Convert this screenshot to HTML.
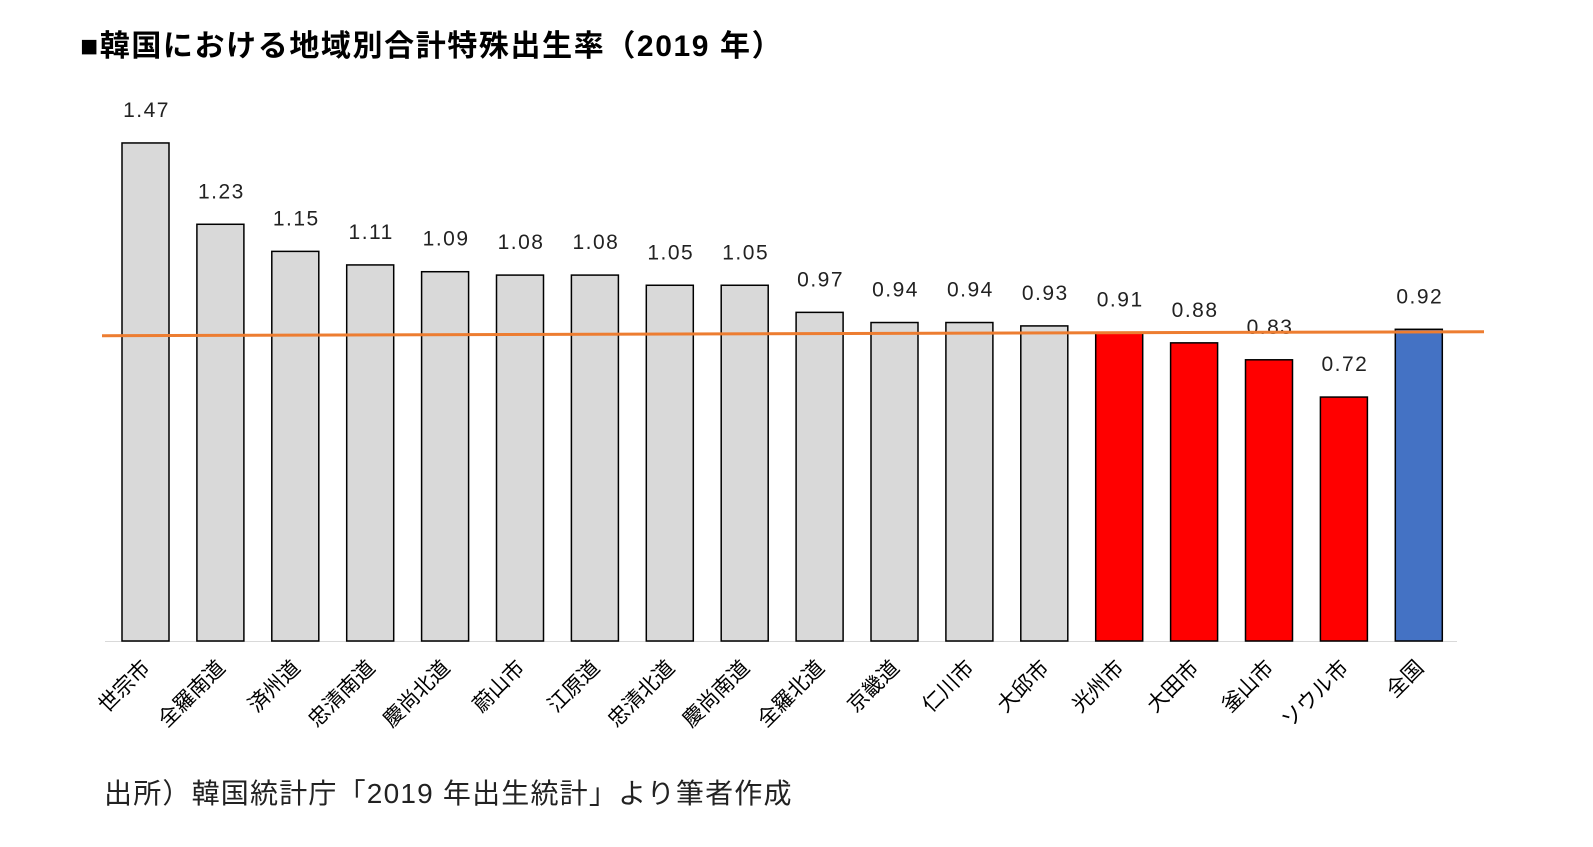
<!DOCTYPE html>
<html lang="ja">
<head>
<meta charset="utf-8">
<style>
html,body{margin:0;padding:0;background:#fff;}
body{width:1593px;height:847px;overflow:hidden;position:relative;font-family:"Liberation Sans","Noto Sans CJK JP",sans-serif;}
#title{position:absolute;left:80px;top:21px;font-size:30px;letter-spacing:1.6px;font-weight:bold;color:#000;white-space:nowrap;}
#source{position:absolute;left:104px;top:772px;font-size:28px;letter-spacing:1.2px;color:#222;white-space:nowrap;}
svg{position:absolute;left:0;top:0;}
</style>
</head>
<body>
<div id="title">■韓国における地域別合計特殊出生率（2019 年）</div>
<svg id="chart" width="1593" height="847"></svg>
<div id="source">出所）韓国統計庁「2019 年出生統計」より筆者作成</div>
<script>
const categories = ["世宗市","全羅南道","済州道","忠清南道","慶尚北道","蔚山市","江原道","忠清北道","慶尚南道","全羅北道","京畿道","仁川市","大邱市","光州市","大田市","釜山市","ソウル市","全国"];
const values = [1.47,1.23,1.15,1.11,1.09,1.08,1.08,1.05,1.05,0.97,0.94,0.94,0.93,0.91,0.88,0.83,0.72,0.92];
const valueLabels = ["1.47","1.23","1.15","1.11","1.09","1.08","1.08","1.05","1.05","0.97","0.94","0.94","0.93","0.91","0.88","0.83","0.72","0.92"];
const groups = ["other","other","other","other","other","other","other","other","other","other","other","other","other","low","low","low","low","national"];
const referenceValue = 0.91;

const NS = "http://www.w3.org/2000/svg";
const svg = document.getElementById("chart");
const baseY = 641, pxPerUnit = 338.8;
const firstX = 122, pitch = 74.9, barW = 47;
const yScale = v => baseY - v * pxPerUnit;
const xScale = i => firstX + i * pitch;
const fills = {other:"#d9d9d9", low:"#ff0000", national:"#4472c4"};

function mk(tag, attrs){const e=document.createElementNS(NS,tag);for(const k in attrs)e.setAttribute(k,attrs[k]);svg.appendChild(e);return e;}

const axis = mk("line",{x1:105,x2:1457,y1:baseY+0.5,y2:baseY+0.5,stroke:"#d9d9d9","stroke-width":1});



values.forEach((v,i)=>{
  const x = xScale(i), y = yScale(v);
  const r = mk("rect",{x:x,y:y,width:barW,height:baseY-y,fill:fills[groups[i]],stroke:"#000","stroke-width":1.5});
  
  
  const t = mk("text",{x:x+barW/2+1,y:y-26,"text-anchor":"middle","font-size":21,"letter-spacing":1.5,fill:"#222","font-family":"Liberation Sans, sans-serif"});
  t.textContent = valueLabels[i];
  
  
  const cx = x+barW/2+6, cy = 669;
  const c = mk("text",{x:cx,y:cy,"text-anchor":"end","font-size":21,fill:"#000",transform:`rotate(-45 ${cx} ${cy})`,"font-family":"Liberation Sans, Noto Sans CJK JP, sans-serif"});
  c.textContent = categories[i];
  
  
});

const ry = yScale(referenceValue);
const ref = mk("line",{x1:102,x2:1484,y1:ry+3,y2:ry-1,stroke:"#ed7d31","stroke-width":3});


</script>
</body>
</html>
